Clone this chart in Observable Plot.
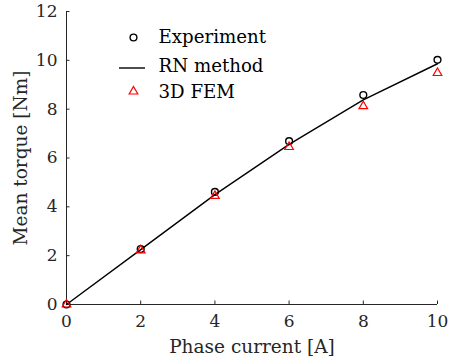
<!DOCTYPE html>
<html><head><meta charset="utf-8">
<script src="https://cdn.jsdelivr.net/npm/d3@7"></script>
<script src="https://cdn.jsdelivr.net/npm/@observablehq/plot@0.6"></script>
<style>
body{margin:0;background:#fff}
#chart svg, #chart svg text {font-family: "DejaVu Serif", "Liberation Serif", serif !important;}
</style>
</head><body><div id="chart"></div>
<script>
const current = [0, 2, 4, 6, 8, 10];
const experiment = [0, 2.27, 4.61, 6.69, 8.58, 10.02];
const rnMethod = [0, 2.25, 4.5, 6.56, 8.38, 9.86];
const fem = [0, 2.22, 4.45, 6.45, 8.12, 9.48];
const xTicks = [0, 2, 4, 6, 8, 10];
const yTicks = [0, 2, 4, 6, 8, 10, 12];
const legendLabels = ["Experiment", "RN method", "3D FEM"];
const xLabel = "Phase current [A]";
const yLabel = "Mean torque [Nm]";

const ink = "#262626";
const rows = (ys) => current.map((x, i) => ({x, y: ys[i]}));

const chart = Plot.plot({
  width: 450, height: 362,
  marginLeft: 66, marginRight: 13, marginTop: 11, marginBottom: 58,
  style: {fontFamily: "DejaVu Serif, serif", fontSize: "17px", color: ink, background: "#fff"},
  x: {domain: [0, 10]},
  y: {domain: [0, 12]},
  marks: [
    Plot.axisX({ticks: xTicks, tickSize: 0, tickPadding: 10, label: null, fontSize: 17, fill: ink}),
    Plot.axisY({ticks: yTicks, tickSize: 0, tickPadding: 9, label: null, fontSize: 17, fill: ink}),
    Plot.axisX({ticks: [], tickSize: 0, label: xLabel, labelAnchor: "center", labelArrow: "none", labelOffset: 48, fontSize: 18.5, fill: ink}),
    Plot.axisY({ticks: [], tickSize: 0, label: yLabel, labelAnchor: "center", labelArrow: "none", labelOffset: 53, fontSize: 18.5, fill: ink}),
    Plot.ruleX(xTicks, {x: (d) => d, y1: 0, y2: 0, insetTop: -3.5, stroke: ink, strokeWidth: 1}),
    Plot.ruleY(yTicks, {y: (d) => d, x1: 0, x2: 0, insetRight: -3.5, stroke: ink, strokeWidth: 1}),
    Plot.ruleY([0], {stroke: ink, strokeWidth: 1}),
    Plot.ruleX([0], {stroke: ink, strokeWidth: 1}),
    Plot.line(rows(rnMethod), {x: "x", y: "y", stroke: "#000", strokeWidth: 1.4}),
    Plot.dot(rows(experiment), {x: "x", y: "y", symbol: "circle", r: 3.4, stroke: "#000", strokeWidth: 1.4, fill: "none"}),
    Plot.dot(rows(fem), {x: "x", y: "y", symbol: "triangle", r: 3.2, stroke: "#ff0000", strokeWidth: 1.2, fill: "none"}),
    // legend
    Plot.dot([legendLabels[0]], {x: null, y: null, frameAnchor: "top-left", dx: 67, dy: 26, symbol: "circle", r: 3.4, stroke: "#000", strokeWidth: 1.4, fill: "none"}),
    Plot.ruleY([legendLabels[1]], {y: null, insetLeft: 53, insetRight: 292, dy: -90, stroke: "#000", strokeWidth: 1.4}),
    Plot.dot([legendLabels[2]], {x: null, y: null, frameAnchor: "top-left", dx: 67, dy: 80, symbol: "triangle", r: 3.2, stroke: "#ff0000", strokeWidth: 1.2, fill: "none"}),
    Plot.text([legendLabels[0]], {frameAnchor: "top-left", lineAnchor: "middle", dx: 92, dy: 26, text: (d) => d, textAnchor: "start", fontSize: 18.2, fill: "#000"}),
    Plot.text([legendLabels[1]], {frameAnchor: "top-left", lineAnchor: "middle", dx: 92, dy: 55, text: (d) => d, textAnchor: "start", fontSize: 18.2, fill: "#000"}),
    Plot.text([legendLabels[2]], {frameAnchor: "top-left", lineAnchor: "middle", dx: 92, dy: 81, text: (d) => d, textAnchor: "start", fontSize: 18.2, fill: "#000"})
  ]
});
document.getElementById("chart").appendChild(chart);
</script></body></html>
